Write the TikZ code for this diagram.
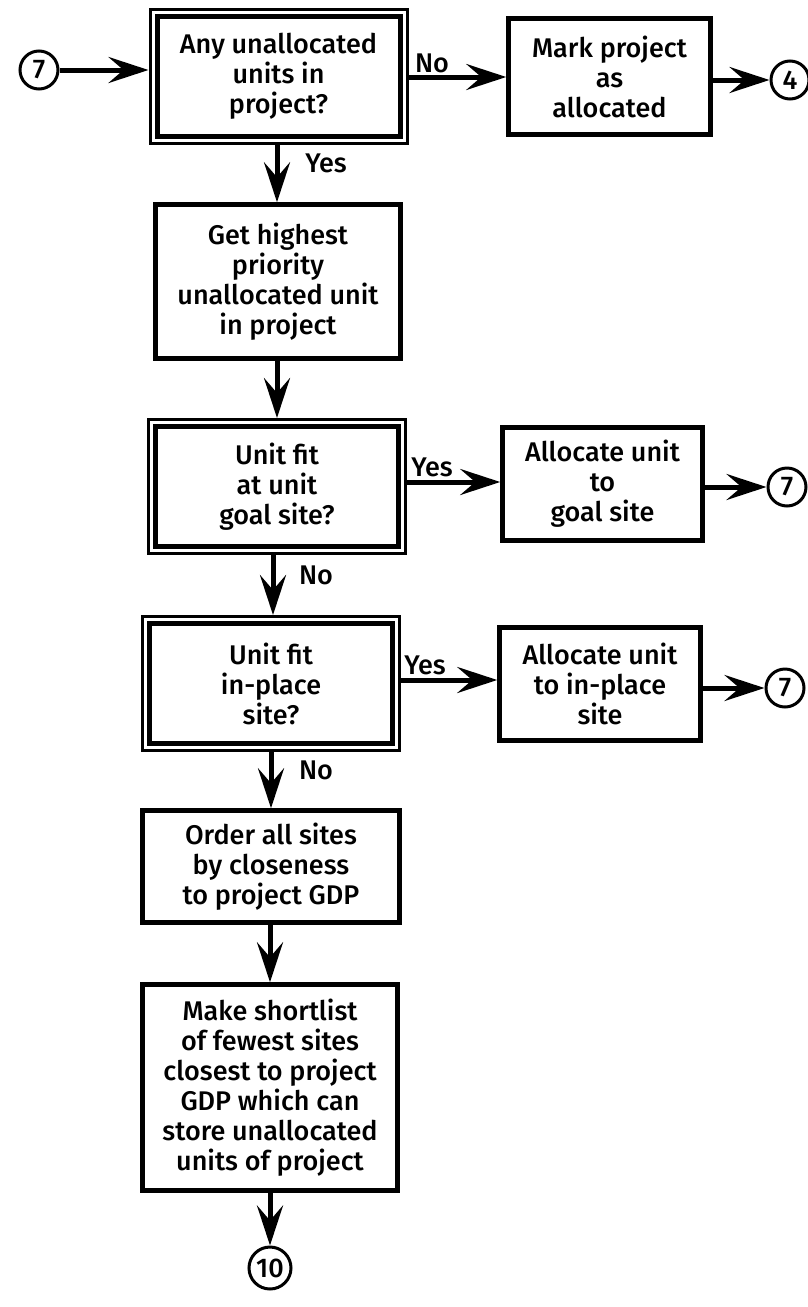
\documentclass[tikz,border=0pt]{standalone}
\usepackage{fontspec}
\setmainfont{Fira Sans}[UprightFont=* Medium]
\usetikzlibrary{arrows.meta}

\tikzset{
	txt/.style={font=\fontsize{27}{30}\selectfont},
	procbox/.style={txt, draw, line width=4.5pt, align=center, inner sep=0pt},
	testbox/.style={txt, draw, line width=3pt, align=center, inner sep=0pt,
		minimum width=257pt, minimum height=134pt,
		path picture={\draw[line width=5pt] ([shift={(7pt,-7pt)}]path picture bounding box.north west) rectangle ([shift={(-7pt,7pt)}]path picture bounding box.south east);}},
	conn/.style={txt, draw, circle, line width=3pt, minimum size=38pt, inner sep=0pt},
	flow/.style={-{Stealth[length=40pt,width=26pt,inset=15pt]}, line width=5pt},
}

\begin{document}
\begin{tikzpicture}[line cap=butt,line join=miter,x=1pt,y=-1pt]
			\useasboundingbox (0,0) rectangle (808,1307);
			% Questions
			\node[testbox] (q1) at (278.5,76) {Any unallocated\\units in\\project?};
			\node[testbox] (q3) at (277,486.5) {Unit fit\\at unit\\goal site?};
			\node[testbox] (q4) at (271,683.5) {Unit fit\\in-place\\site?};
			% Steps
			\node[procbox, minimum width=245pt, minimum height=154pt] (p1) at (278,281.5) {Get highest\\priority\\unallocated unit\\in project};
			\node[procbox, minimum width=257pt, minimum height=112pt] (p5) at (271,866.5) {Order all sites\\by closeness\\to project GDP};
			\node[procbox, minimum width=255pt, minimum height=206pt] (p6) at (270,1087.5) {Make shortlist\\of fewest sites\\closest to project\\GDP which can\\store unallocated\\units of project};
			\node[procbox, minimum width=202pt, minimum height=116pt] (mark) at (609.5,76.5) {Mark project\\as\\allocated};
			\node[procbox, minimum width=200pt, minimum height=113pt] (a1) at (602.5,484) {Allocate unit\\to\\goal site};
			\node[procbox, minimum width=201pt, minimum height=113pt] (a2) at (600,684) {Allocate unit\\to in-place\\site};
			% Connectors
			\node[conn] (c7) at (39,70) {7};
			\node[conn] (c4) at (790,80) {4};
			\node[conn] (c7a) at (787,487) {7};
			\node[conn] (c7b) at (785,688) {7};
			\node[conn, minimum size=42pt] (c10) at (270,1268) {10};
			%% arrows
			\draw[flow] (c7.east) -- (q1.west |- c7);
			\draw[flow] (q1.east |- 0,77) -- (mark.west |- 0,77);
			\draw[flow] (mark.east |- c4) -- (c4.west);
			\draw[flow] (q1.south -| 277,0) -- (p1.north -| 277,0);
			\draw[flow] (p1.south -| 277,0) -- (q3.north -| 277,0);
			\draw[flow] (q3.east |- 0,482) -- (a1.west |- 0,482);
			\draw[flow] (a1.east |- c7a) -- (c7a.west);
			\draw[flow] (q3.south -| 273,0) -- (q4.north -| 273,0);
			\draw[flow] (q4.east |- 0,680) -- (a2.west |- 0,680);
			\draw[flow] (a2.east |- c7b) -- (c7b.west);
			\draw[flow] (q4.south -| 271,0) -- (p5.north -| 271,0);
			\draw[flow] (p5.south -| 270,0) -- (p6.north -| 270,0);
			\draw[flow] (p6.south -| 270,0) -- (c10.north);
			%% labels
			\node[txt] (yes1) at (326,163) {Yes};
			\node[txt] (no1) at (432,63) {No};
			\node[txt] (yes3) at (432,467) {Yes};
			\node[txt] (no3) at (316,575) {No};
			\node[txt] (yes4) at (425,665) {Yes};
			\node[txt] (no4) at (316,770) {No};
		\end{tikzpicture}
\end{document}
